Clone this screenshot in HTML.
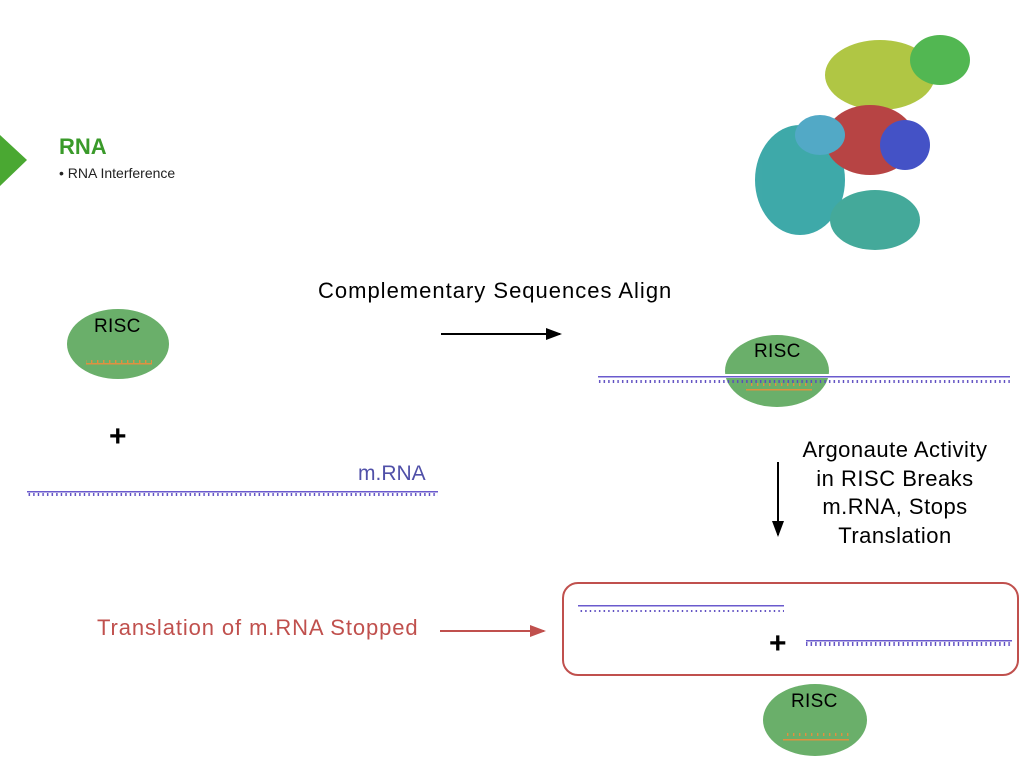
<!DOCTYPE html>
<html><head><style>
body{margin:0;width:1024px;height:768px;background:#fff;overflow:hidden;position:relative;font-family:"Liberation Sans",sans-serif}
.t{position:absolute;white-space:nowrap}
</style></head><body>
<svg width="1024" height="768" style="position:absolute;left:0;top:0">
<defs>
<pattern id="pb" width="4.6" height="10" patternUnits="userSpaceOnUse"><rect x="1" y="0" width="1.4" height="6" fill="#5a4ac0"/></pattern>
<pattern id="po" width="6" height="10" patternUnits="userSpaceOnUse"><rect x="1" y="0" width="1.4" height="6" fill="#e09040"/></pattern>
<marker id="ah" markerWidth="8" markerHeight="8" refX="7" refY="4" orient="auto"><path d="M0,1 L8,4 L0,7z" fill="#000"/></marker>
<marker id="ar" markerWidth="8" markerHeight="8" refX="7" refY="4" orient="auto"><path d="M0,1 L8,4 L0,7z" fill="#c0504d"/></marker>
</defs>
<polygon points="0,135 27,160 0,186" fill="#4aa832"/>
<g opacity="0.9">
<ellipse cx="880" cy="75" rx="55" ry="35" fill="#a8c030"/>
<ellipse cx="940" cy="60" rx="30" ry="25" fill="#40b040"/>
<ellipse cx="800" cy="180" rx="45" ry="55" fill="#2aa0a0"/>
<ellipse cx="870" cy="140" rx="45" ry="35" fill="#b03030"/>
<ellipse cx="905" cy="145" rx="25" ry="25" fill="#3040c0"/>
<ellipse cx="875" cy="220" rx="45" ry="30" fill="#30a090"/>
<ellipse cx="820" cy="135" rx="25" ry="20" fill="#40a0c0"/>
</g>
<ellipse cx="118" cy="344" rx="51" ry="35" fill="#6aaf6a"/>
<rect x="86" y="363" width="66" height="1.5" fill="#e09040"/>
<rect x="86" y="357" width="66" height="6" fill="url(#po)"/>
<rect x="27" y="491" width="411" height="1.5" fill="#6a5acd"/>
<rect x="27" y="493" width="411" height="5" fill="url(#pb)"/>
<ellipse cx="777" cy="371" rx="52" ry="36" fill="#6aaf6a"/>
<rect x="720" y="374" width="120" height="4" fill="#fff"/>
<rect x="598" y="376" width="412" height="1.5" fill="#6a5acd"/>
<rect x="598" y="378" width="412" height="5" fill="url(#pb)"/>
<rect x="746" y="389" width="66" height="1.5" fill="#e09040"/>
<rect x="746" y="383" width="66" height="6" fill="url(#po)"/>
<line x1="441" y1="334" x2="560" y2="334" stroke="#000" stroke-width="2" marker-end="url(#ah)"/>
<line x1="778" y1="462" x2="778" y2="535" stroke="#000" stroke-width="2" marker-end="url(#ah)"/>
<line x1="440" y1="631" x2="544" y2="631" stroke="#c0504d" stroke-width="2" marker-end="url(#ar)"/>
<rect x="563" y="583" width="455" height="92" rx="15" fill="none" stroke="#c0504d" stroke-width="2"/>
<rect x="578" y="605" width="206" height="1.5" fill="#6a5acd"/>
<rect x="578" y="607" width="206" height="5" fill="url(#pb)"/>
<rect x="806" y="640" width="206" height="1.5" fill="#6a5acd"/>
<rect x="806" y="642" width="206" height="5" fill="url(#pb)"/>
<ellipse cx="815" cy="720" rx="52" ry="36" fill="#6aaf6a"/>
<rect x="783" y="739" width="66" height="1.5" fill="#e09040"/>
<rect x="783" y="733" width="66" height="6" fill="url(#po)"/>
</svg>
<div class="t" style="left:59px;top:134px;font-size:22px;font-weight:bold;color:#3a9a2a">RNA</div>
<div class="t" style="left:59px;top:165px;font-size:14px;color:#222">• RNA Interference</div>
<div class="t" style="left:318px;top:278px;font-size:22px;letter-spacing:1px;color:#000">Complementary Sequences Align</div>
<div class="t" style="left:94px;top:316px;font-size:19px;letter-spacing:0.3px;color:#000">RISC</div>
<div class="t" style="left:754px;top:341px;font-size:19px;letter-spacing:0.3px;color:#000">RISC</div>
<div class="t" style="left:791px;top:691px;font-size:19px;letter-spacing:0.3px;color:#000">RISC</div>
<div class="t" style="left:109px;top:420px;font-size:30px;font-weight:bold;color:#000">+</div>
<div class="t" style="left:769px;top:627px;font-size:30px;font-weight:bold;color:#000">+</div>
<div class="t" style="left:358px;top:462px;font-size:21px;color:#5050a8">m.RNA</div>
<div class="t" style="left:786px;top:436px;width:218px;text-align:center;font-size:22px;letter-spacing:0.5px;line-height:28.5px;color:#000">Argonaute Activity<br>in RISC Breaks<br>m.RNA, Stops<br>Translation</div>
<div class="t" style="left:97px;top:615px;font-size:22px;letter-spacing:0.9px;color:#c0504d">Translation of m.RNA Stopped</div>
</body></html>
